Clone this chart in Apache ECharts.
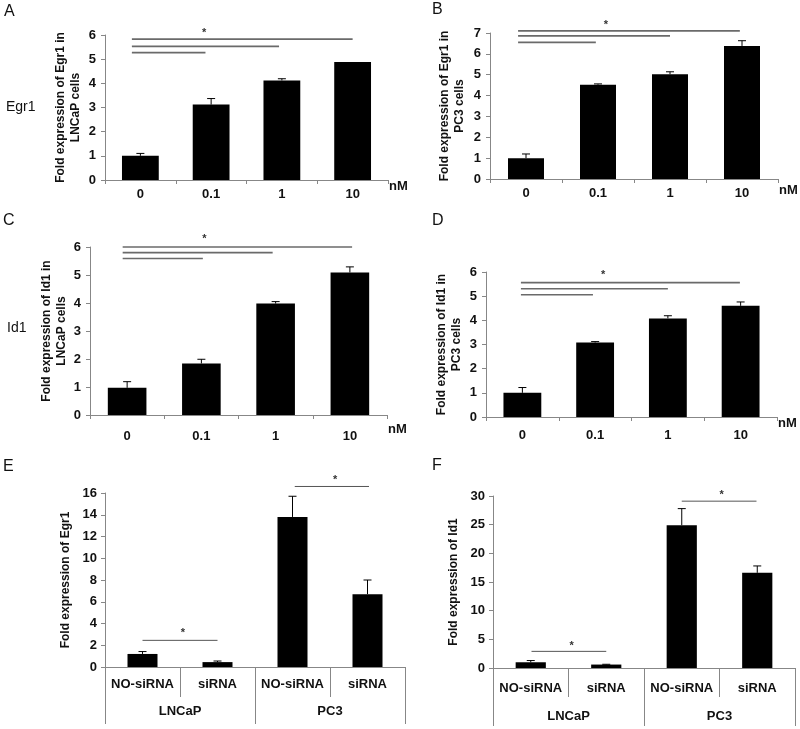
<!DOCTYPE html>
<html><head><meta charset="utf-8">
<script src="https://cdn.jsdelivr.net/npm/echarts@6/dist/echarts.min.js"></script>
<style>html,body{margin:0;padding:0;background:#fff}#c{width:800px;height:729px}</style>
</head><body><div id="c"></div>
<script>
// ---------- data ----------
const doseCats = ['0', '0.1', '1', '10'];
const siCats = ['NO-siRNA', 'siRNA', 'NO-siRNA', 'siRNA'];
const cellGroups = ['LNCaP', 'PC3'];

const egr1LNCaP = [1.0, 3.12, 4.12, 4.88];
const egr1LNCaPErr = [0.1, 0.25, 0.07, 0.0];
const egr1PC3 = [1.0, 4.52, 5.02, 6.38];
const egr1PC3Err = [0.2, 0.04, 0.12, 0.25];
const id1LNCaP = [0.97, 1.84, 3.98, 5.09];
const id1LNCaPErr = [0.22, 0.15, 0.07, 0.2];
const id1PC3 = [1.0, 3.08, 4.08, 4.6];
const id1PC3Err = [0.22, 0.04, 0.11, 0.16];
const egr1Si = [1.2, 0.45, 13.8, 6.7];
const egr1SiErr = [0.22, 0.1, 1.9, 1.3];
const id1Si = [1.0, 0.6, 24.9, 16.6];
const id1SiErr = [0.3, 0.05, 2.9, 1.2];

// significance brackets: [fromX, toX, y] (x in category-index units)
const sigA = [[-0.12, 0.92, 5.27], [-0.12, 1.96, 5.53], [-0.12, 3.0, 5.83]];
const sigB = [[-0.11, 0.97, 6.55], [-0.11, 2.0, 6.86], [-0.11, 2.97, 7.1]];
const sigC = [[-0.06, 1.02, 5.59], [-0.06, 1.96, 5.8], [-0.06, 3.03, 6.0]];
const sigD = [[-0.02, 0.97, 5.06], [-0.02, 2.0, 5.31], [-0.02, 2.99, 5.56]];
const sigE = [[0.0, 1.0, 2.45], [2.03, 3.02, 16.6]];
const sigF = [[0.01, 1.0, 2.9], [2.0, 2.99, 29.1]];
const starsA = [[0.9, 6.1]];
const starsB = [[1.11, 7.4]];
const starsC = [[1.04, 6.3]];
const starsD = [[1.11, 5.86]];
const starsE = [[0.54, 3.1], [2.57, 17.2]];
const starsF = [[0.54, 3.9], [2.53, 30.2]];

// ---------- chart ----------
const FONT = '"Liberation Sans", Arial, sans-serif';
const AX = '#878787';
const grids = [], xAxes = [], yAxes = [], series = [];

function errRender(params, api) {
  const x = api.value(0), v = api.value(1), t = api.value(2);
  if (!(t - v > 0.001)) return null;
  const p0 = api.coord([x, v]), p1 = api.coord([x, t]);
  const st = { stroke: '#000', lineWidth: 1 };
  return { type: 'group', children: [
    { type: 'line', shape: { x1: p0[0], y1: p0[1], x2: p1[0], y2: p1[1] }, style: st },
    { type: 'line', shape: { x1: p1[0] - 4, y1: p1[1], x2: p1[0] + 4, y2: p1[1] }, style: st }
  ] };
}

function addPanel(p) {
  const gi = grids.length;
  grids.push({ left: p.box[0], top: p.box[1], width: p.box[2], height: p.box[3], containLabel: false, outerBoundsMode: 'none' });
  const catX = xAxes.length;
  xAxes.push({
    type: 'category', gridIndex: gi, data: p.cats, position: 'bottom',
    axisLine: { show: true, onZero: false, lineStyle: { color: AX, width: 1 } },
    axisTick: { show: true, length: p.tickLen, lineStyle: { color: AX } },
    axisLabel: { color: '#111', fontWeight: 'bold', fontSize: 13, fontFamily: FONT, margin: p.labelMargin, interval: 0 },
    name: p.unit || '', nameLocation: 'end', nameGap: 1,
    nameTextStyle: { color: '#111', fontWeight: 'bold', fontSize: 13, fontFamily: FONT, align: 'left', verticalAlign: 'top', padding: [p.unitPad || 0, 0, 0, 0] }
  });
  if (p.groups) {
    xAxes.push({
      type: 'category', gridIndex: gi, data: p.groups, position: 'bottom',
      axisLine: { show: false, onZero: false },
      axisTick: { show: true, length: p.groupTick, lineStyle: { color: AX } },
      axisLabel: { color: '#111', fontWeight: 'bold', fontSize: 13, fontFamily: FONT, margin: p.groupMargin, interval: 0 }
    });
  }
  const valX = xAxes.length;
  xAxes.push({ type: 'value', gridIndex: gi, min: -0.5, max: p.cats.length - 0.5, show: false, position: 'top',
    axisLine: { show: false, onZero: false }, axisTick: { show: false }, axisLabel: { show: false }, splitLine: { show: false } });
  const yi = yAxes.length;
  yAxes.push({
    type: 'value', gridIndex: gi, min: 0, max: p.yMax, interval: p.yStep, position: 'left',
    splitLine: { show: false },
    axisLine: { show: true, onZero: false, lineStyle: { color: AX, width: 1 } },
    axisTick: { show: true, length: 4, lineStyle: { color: AX } },
    axisLabel: { color: '#111', fontWeight: 'bold', fontSize: 13, fontFamily: FONT, margin: p.yMargin },
    name: p.title, nameLocation: 'middle', nameGap: p.nameGap,
    nameTextStyle: { color: '#111', fontWeight: 'bold', fontSize: 12, fontFamily: FONT, lineHeight: 15 }
  });
  series.push({ type: 'bar', xAxisIndex: catX, yAxisIndex: yi, data: p.vals, barCategoryGap: p.gap, itemStyle: { color: '#000' }, silent: true, animation: false });
  series.push({ type: 'custom', xAxisIndex: valX, yAxisIndex: yi, clip: false, z: 5, silent: true, animation: false,
    data: p.vals.map((v, i) => [i, v, v + p.errs[i]]), encode: { x: 0, y: 1 }, renderItem: errRender });
  series.push({ type: 'custom', xAxisIndex: valX, yAxisIndex: yi, clip: false, z: 4, silent: true, animation: false,
    data: p.sig, encode: { x: 0, y: 2 },
    renderItem: function (params, api) {
      const a = api.coord([api.value(0), api.value(2)]), b = api.coord([api.value(1), api.value(2)]);
      return { type: 'line', shape: { x1: a[0], y1: a[1], x2: b[0], y2: b[1] }, style: { stroke: p.sigColor, lineWidth: p.sigWidth } };
    } });
  series.push({ type: 'custom', xAxisIndex: valX, yAxisIndex: yi, clip: false, z: 4, silent: true, animation: false,
    data: p.stars, encode: { x: 0, y: 1 },
    renderItem: function (params, api) {
      const a = api.coord([api.value(0), api.value(1)]);
      return { type: 'text', x: a[0], y: a[1], style: { text: '*', fill: '#333', font: 'bold 11px ' + FONT, align: 'center', verticalAlign: 'middle' } };
    } });
}

addPanel({ box: [105, 35, 283, 145], cats: doseCats, vals: egr1LNCaP, errs: egr1LNCaPErr, yMax: 6, yStep: 1,
  title: 'Fold expression of Egr1 in\nLNCaP cells', nameGap: 22, yMargin: 9, tickLen: 4, labelMargin: 8, gap: '48%',
  unit: 'nM', unitPad: 0, sig: sigA, stars: starsA, sigColor: '#6a6a6a', sigWidth: 1.6 });
addPanel({ box: [490, 33, 288, 146], cats: doseCats, vals: egr1PC3, errs: egr1PC3Err, yMax: 7, yStep: 1,
  title: 'Fold expression of Egr1 in\nPC3 cells', nameGap: 23, yMargin: 9, tickLen: 4, labelMargin: 8, gap: '50%',
  unit: 'nM', unitPad: 5, sig: sigB, stars: starsB, sigColor: '#6a6a6a', sigWidth: 1.6 });
addPanel({ box: [90, 247, 297, 168], cats: doseCats, vals: id1LNCaP, errs: id1LNCaPErr, yMax: 6, yStep: 1,
  title: 'Fold expression of Id1 in\nLNCaP cells', nameGap: 21, yMargin: 9, tickLen: 4, labelMargin: 15, gap: '48%',
  unit: 'nM', unitPad: 8, sig: sigC, stars: starsC, sigColor: '#6a6a6a', sigWidth: 1.6 });
addPanel({ box: [486, 272, 291, 145], cats: doseCats, vals: id1PC3, errs: id1PC3Err, yMax: 6, yStep: 1,
  title: 'Fold expression of Id1 in\nPC3 cells', nameGap: 22, yMargin: 9, tickLen: 4, labelMargin: 12, gap: '48%',
  unit: 'nM', unitPad: 0, sig: sigD, stars: starsD, sigColor: '#6a6a6a', sigWidth: 1.6 });
addPanel({ box: [105, 493, 300, 174], cats: siCats, vals: egr1Si, errs: egr1SiErr, yMax: 16, yStep: 2,
  title: 'Fold expression of Egr1', nameGap: 32, yMargin: 8, tickLen: 30, labelMargin: 11, gap: '60%',
  groups: cellGroups, groupTick: 57, groupMargin: 38, sig: sigE, stars: starsE, sigColor: '#555', sigWidth: 1 });
addPanel({ box: [493, 496, 302, 172], cats: siCats, vals: id1Si, errs: id1SiErr, yMax: 30, yStep: 5,
  title: 'Fold expression of Id1', nameGap: 32, yMargin: 8, tickLen: 29, labelMargin: 14, gap: '60%',
  groups: cellGroups, groupTick: 58, groupMargin: 42, sig: sigF, stars: starsF, sigColor: '#555', sigWidth: 1 });

const letterStyle = (t, x, y, size) => ({ type: 'text', x: x, y: y, style: { text: t, fill: '#111', font: size + 'px ' + FONT, verticalAlign: 'middle' } });
const option = {
  animation: false,
  backgroundColor: '#fff',
  grid: grids, xAxis: xAxes, yAxis: yAxes, series: series,
  graphic: [
    letterStyle('A', 4, 12, 16), letterStyle('B', 432, 10, 16),
    letterStyle('C', 3, 221, 16), letterStyle('D', 432, 221, 16),
    letterStyle('E', 3, 467, 16), letterStyle('F', 432, 466, 16),
    letterStyle('Egr1', 6, 107, 14), letterStyle('Id1', 7, 328, 14)
  ]
};
const chart = echarts.init(document.getElementById('c'));
chart.setOption(option);
</script>
</body></html>
